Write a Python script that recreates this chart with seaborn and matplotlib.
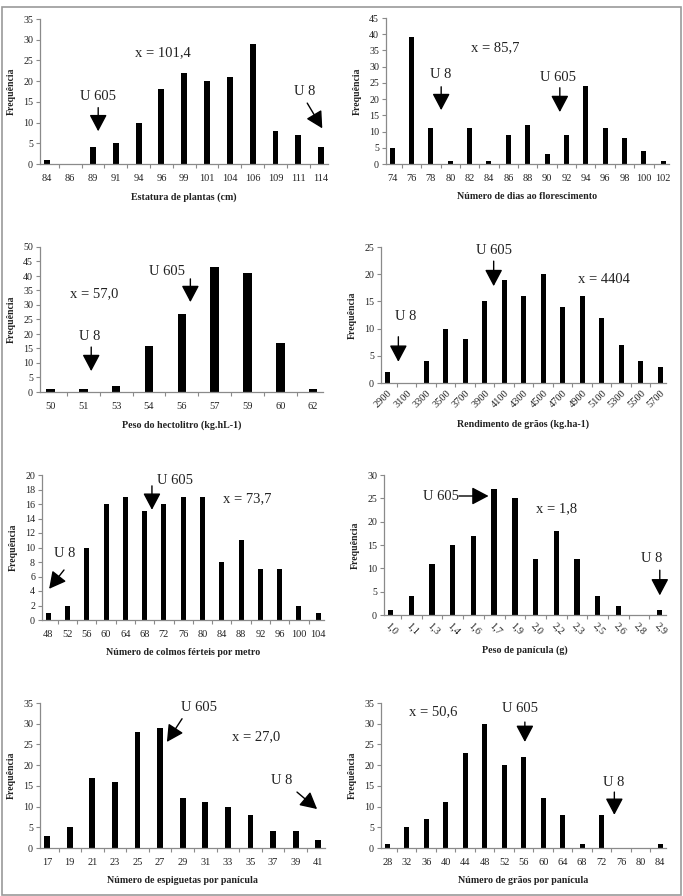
import numpy as np
import pandas as pd
import seaborn as sns
import matplotlib
matplotlib.use('Agg')
from matplotlib import pyplot as plt

# ---- data ----
estatura_cats = ['84', '86', '89', '91', '94', '96', '99', '101', '104', '106', '109', '111', '114']
estatura_vals = [1, 0, 4, 5, 10, 18, 22, 20, 21, 29, 8, 7, 4]

dias_cats = ['74', '76', '78', '80', '82', '84', '86', '88', '90', '92', '94', '96', '98', '100', '102']
dias_vals = [5, 39, 11, 1, 11, 1, 9, 12, 3, 9, 24, 11, 8, 4, 1]

hectolitro_cats = ['50', '51', '53', '54', '56', '57', '59', '60', '62']
hectolitro_vals = [1, 1, 2, 16, 27, 43, 41, 17, 1]

rendimento_cats = ['2900', '3100', '3300', '3500', '3700', '3900', '4100', '4300',
                   '4500', '4700', '4900', '5100', '5300', '5500', '5700']
rendimento_vals = [2, 0, 4, 10, 8, 15, 19, 16, 20, 14, 16, 12, 7, 4, 3]

colmos_cats = ['48', '52', '56', '60', '64', '68', '72', '76', '80', '84', '88', '92', '96', '100', '104']
colmos_vals = [1, 2, 10, 16, 17, 15, 16, 17, 17, 8, 11, 7, 7, 2, 1]

panicula_cats = ['1,0', '1,1', '1,3', '1,4', '1,6', '1,7', '1,9', '2,0', '2,2', '2,3', '2,5', '2,6', '2,8', '2,9']
panicula_vals = [1, 4, 11, 15, 17, 27, 25, 12, 18, 12, 4, 2, 0, 1]

espiguetas_cats = ['17', '19', '21', '23', '25', '27', '29', '31', '33', '35', '37', '39', '41']
espiguetas_vals = [3, 5, 17, 16, 28, 29, 12, 11, 10, 8, 4, 4, 2]

graos_cats = ['28', '32', '36', '40', '44', '48', '52', '56', '60', '64', '68', '72', '76', '80', '84']
graos_vals = [1, 5, 7, 11, 23, 30, 20, 22, 12, 8, 1, 8, 0, 0, 1]

sns.set_theme(style='white')
plt.rcParams['font.family'] = ['Liberation Serif', 'DejaVu Serif']

W, H = 683, 896
fig = plt.figure(figsize=(W / 100, H / 100), dpi=100)

AX_GRAY = '#8a8a8a'
TXT = '#222222'


def make_ax(left, right, top, bottom):
    return fig.add_axes([left / W, 1 - bottom / H, (right - left) / W, (bottom - top) / H])


def draw(ax, cats, vals, ymax, ystep, xlabel, texts, arrows, rot=0):
    df = pd.DataFrame({'cat': cats, 'freq': vals})
    sns.barplot(data=df, x='cat', y='freq', order=cats, color='black',
                width=0.26, saturation=1, ax=ax, edgecolor='black', linewidth=0)
    n = len(cats)
    ax.set_xlim(-0.32, n - 1 + 0.3)
    ax.set_ylim(0, ymax)
    ax.set_yticks(np.arange(0, ymax + 0.1, ystep))
    ax.set_xticks(np.arange(0.5, n - 1, 1), minor=True)
    for s in ['top', 'right']:
        ax.spines[s].set_visible(False)
    for s in ['left', 'bottom']:
        ax.spines[s].set_color(AX_GRAY)
        ax.spines[s].set_linewidth(0.9)
    ax.tick_params(axis='y', which='major', direction='out', length=3, width=0.8,
                   color=AX_GRAY, labelsize=7.2, labelcolor=TXT, pad=2, left=True)
    ax.tick_params(axis='x', which='major', length=0, labelsize=7.5, labelcolor=TXT, pad=7)
    ax.tick_params(axis='x', which='minor', direction='out', length=3, width=0.8,
                   color=AX_GRAY, bottom=True)
    if rot:
        for lab in ax.get_xticklabels():
            lab.set_rotation(rot)
            lab.set_ha('right' if rot > 0 else 'left')
            lab.set_rotation_mode('anchor')
        ax.tick_params(axis='x', which='major', pad=4)
    ax.set_xlabel(xlabel, fontsize=7.2, fontweight='bold', color=TXT, labelpad=7)
    ax.set_ylabel('Frequência', fontsize=7, fontweight='bold', color=TXT, labelpad=5)
    for txt, x, y, ha in texts:
        ax.text(x, y, txt, fontsize=10.5, color=TXT, ha=ha, va='center', clip_on=False)
    for tail, tip in arrows:
        ax.annotate('', xy=tip, xytext=tail, annotation_clip=False,
                    arrowprops=dict(arrowstyle='-|>,head_length=0.85,head_width=0.45',
                                    color='black', lw=1, shrinkA=0, shrinkB=0,
                                    mutation_scale=12))


ax1 = make_ax(40, 328, 19, 164)
draw(ax1, estatura_cats, estatura_vals, 35, 5, 'Estatura de plantas (cm)',
     [('x = 101,4', 5.07, 26.8, 'center'), ('U 605', 2.23, 16.3, 'center'),
      ('U 8', 11.27, 17.4, 'center')],
     [((2.23, 13.6), (2.23, 7.9)), ((11.39, 14.7), (12.05, 8.6))])

ax2 = make_ax(386, 669, 18, 164)
draw(ax2, dias_cats, dias_vals, 45, 5, 'Número de dias ao florescimento',
     [('x = 85,7', 5.3, 36, 'center'), ('U 8', 2.5, 27.5, 'center'),
      ('U 605', 8.56, 26.8, 'center')],
     [((2.53, 23.8), (2.53, 16.6)), ((8.66, 23.5), (8.66, 16.0))])

ax3 = make_ax(40, 323, 247, 392)
draw(ax3, hectolitro_cats, hectolitro_vals, 50, 5, 'Peso do hectolitro (kg.hL-1)',
     [('x = 57,0', 1.33, 33.8, 'center'), ('U 605', 3.56, 41.4, 'center'),
      ('U 8', 1.18, 19, 'center')],
     [((4.26, 39), (4.26, 31)), ((1.24, 15.5), (1.24, 7.2))])

ax4 = make_ax(381, 666, 247, 383)
draw(ax4, rendimento_cats, rendimento_vals, 25, 5, 'Rendimento de grãos (kg.ha-1)',
     [('x = 4404', 11.1, 19.1, 'center'), ('U 605', 5.46, 24.3, 'center'),
      ('U 8', 0.93, 12.3, 'center')],
     [((5.46, 22.4), (5.46, 17.8)), ((0.57, 8.5), (0.57, 3.9))], rot=45)

ax5 = make_ax(42, 324, 475, 620)
draw(ax5, colmos_cats, colmos_vals, 20, 2, 'Número de colmos férteis por metro',
     [('x = 73,7', 10.3, 16.8, 'center'), ('U 605', 6.56, 19.3, 'center'),
      ('U 8', 0.87, 9.2, 'center')],
     [((5.38, 18.5), (5.38, 15.2)), ((0.82, 6.9), (0.05, 4.3))])

ax6 = make_ax(384, 666, 475, 615)
draw(ax6, panicula_cats, panicula_vals, 30, 5, 'Peso de panícula (g)',
     [('x = 1,8', 8.0, 22.8, 'center'), ('U 605', 3.3, 25.5, 'right'),
      ('U 8', 12.6, 12.2, 'center')],
     [((3.3, 25.5), (4.73, 25.5)), ((13.0, 9.6), (13.0, 4.2))], rot=-45)

ax7 = make_ax(40, 325, 703, 848)
draw(ax7, espiguetas_cats, espiguetas_vals, 35, 5, 'Número de espiguetas por panícula',
     [('x = 27,0', 9.25, 26.8, 'center'), ('U 605', 6.73, 34, 'center'),
      ('U 8', 10.4, 16.4, 'center')],
     [((5.97, 31.2), (5.3, 25.6)), ((11.06, 13.5), (11.95, 9.4))])

ax8 = make_ax(381, 666, 703, 848)
draw(ax8, graos_cats, graos_vals, 35, 5, 'Número de grãos por panícula',
     [('x = 50,6', 2.37, 32.8, 'center'), ('U 605', 6.8, 33.6, 'center'),
      ('U 8', 11.6, 15.9, 'center')],
     [((7.06, 30.4), (7.06, 25.6)), ((11.65, 13.5), (11.65, 8.0))])

# outer frame around the whole figure
fig.patches.append(plt.Rectangle((1.5 / W, 1 - 895 / H), 679 / W, 888 / H,
                                 transform=fig.transFigure, fill=False,
                                 edgecolor='#9a9a9a', lw=1.2))

fig.savefig('out.png', dpi=100)
